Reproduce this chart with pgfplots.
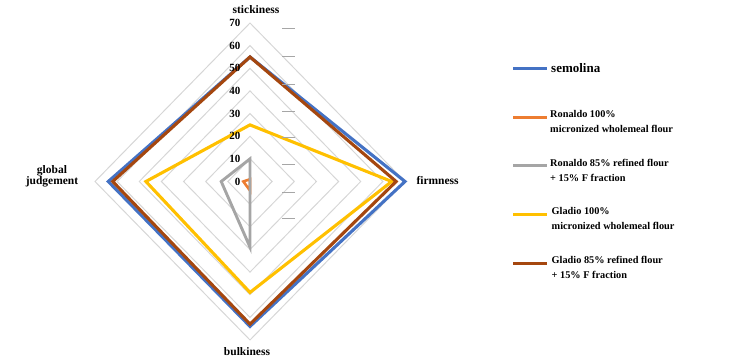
\documentclass[border=0pt]{standalone}
\usepackage{fontspec}
\setmainfont{Liberation Serif}
\usepackage{pgfplots}
\pgfplotsset{compat=1.18}
\definecolor{cSem}{HTML}{4472C4}
\definecolor{cRon}{HTML}{ED7D31}
\definecolor{cRonF}{HTML}{A5A5A5}
\definecolor{cGla}{HTML}{FFC000}
\definecolor{cGlaF}{HTML}{A5470F}
\definecolor{cGrid}{HTML}{D6D6D6}
\begin{document}
\begin{tikzpicture}[x=1pt,y=1pt]
\useasboundingbox (0,0) rectangle (747,362);
\begin{axis}[at={(250pt,180.5pt)}, anchor=center, width=310pt, height=317pt,
  scale only axis, xmin=-70, xmax=70, ymin=-70, ymax=70, hide axis, clip=false,
  every axis plot/.append style={line join=miter, data cs=polar}]
% grid diamonds (angle, radius): stickiness 90, firmness 0, bulkiness 270, global 180
\pgfplotsinvokeforeach{10,20,30,40,50,60,70}{
  \addplot[cGrid, line width=1pt] coordinates {(90,#1)(0,#1)(270,#1)(180,#1)} -- cycle;
}
% semolina
\addplot[cSem, line width=3.1pt] coordinates {(90,55)(0,70)(270,64)(180,64)} -- cycle;
% Ronaldo 100%
\addplot[cRon, line width=2.6pt] coordinates {(90,1)(0,0)(270,4)(180,3)} -- cycle;
% Ronaldo 85% + 15% F
\addplot[cRonF, line width=2.9pt] coordinates {(90,10)(0,0)(270,29)(180,13)} -- cycle;
% Gladio 100%
\addplot[cGla, line width=3.1pt] coordinates {(90,25)(0,64)(270,49)(180,47)} -- cycle;
% Gladio 85% + 15% F
\addplot[cGlaF, line width=3.1pt] coordinates {(90,55)(0,66)(270,63)(180,62)} -- cycle;
\pgfplotsinvokeforeach{0,10,20,30,40,50,60,70}{
  \node[anchor=east, inner sep=0pt, font=\bfseries\fontsize{11}{12}\selectfont] at (axis cs:-4.3,#1) {#1};
}
\end{axis}
% stray tick marks
\foreach \yy in {28,56.7,84,111,137.7,164,192,218}
  \draw[gray!70, line width=0.6pt] (282,362-\yy) -- (295,362-\yy);
% axis category labels
\node[font=\bfseries\fontsize{11.5}{12}\selectfont] at (256,352.7) {stickiness};
\node[anchor=west, font=\bfseries\fontsize{11.5}{12}\selectfont] at (413,181) {firmness};
\node[font=\bfseries\fontsize{11.5}{12}\selectfont] at (247,10.3) {bulkiness};
\node[align=center, font=\bfseries\fontsize{11.5}{10.5}\selectfont] at (52,185.5) {global\\judgement};
% legend
\begin{scope}[line width=3pt]
\draw[cSem] (513,362-68.3) -- (547,362-68.3);
\draw[cRon] (513,362-117.3) -- (547,362-117.3);
\draw[cRonF] (513,362-166) -- (547,362-166);
\draw[cGla] (513,362-214.3) -- (547,362-214.3);
\draw[cGlaF] (513,362-263) -- (547,362-263);
\end{scope}
\node[anchor=base west, inner sep=0pt, font=\bfseries\fontsize{13}{14}\selectfont] at (551,362-72.5) {semolina};
\tikzset{lg/.style={anchor=north west, inner sep=0pt, align=left, font=\bfseries\fontsize{10.3}{14.5}\selectfont}}
\node[lg] at (550,362-110.5) {Ronaldo 100\%\\micronized wholemeal flour};
\node[lg] at (550,362-159.5) {Ronaldo 85\% refined flour\\+ 15\% F fraction};
\node[lg] at (551.5,362-207.5) {Gladio 100\%\\micronized wholemeal flour};
\node[lg] at (551.5,362-256.5) {Gladio 85\% refined flour\\+ 15\% F fraction};
\end{tikzpicture}
\end{document}
